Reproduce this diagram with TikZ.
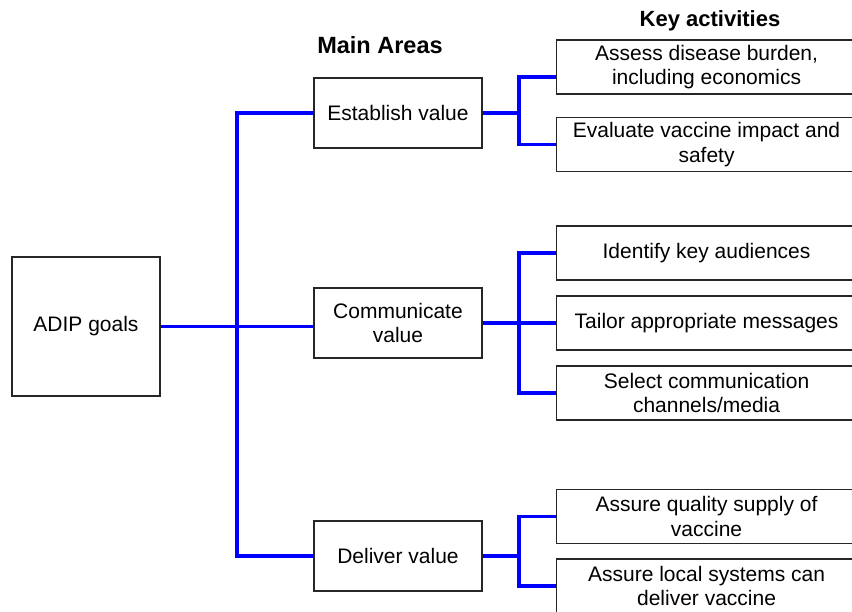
\documentclass[tikz,border=0pt]{standalone}
\usepackage{fontspec}
\setmainfont{Liberation Sans}
\usepackage{tikz}

\begin{document}
\begin{tikzpicture}[x=1pt,y=-1pt,
  box/.style={draw=black!85, line width=1.1pt, fill=white, align=center, inner sep=0pt,
    font=\fontsize{21}{24.5}\selectfont},
  area/.style={box, minimum width=168, minimum height=70},
  activity/.style={box, anchor=west, minimum width=300, minimum height=54},
  head/.style={font=\fontsize{22}{26}\selectfont\bfseries},
  link/.style={draw=blue, line width=3.5pt}]
\useasboundingbox (0,0) rectangle (852,611);
\node[head, font=\fontsize{23.5}{27}\selectfont\bfseries] (areas) at (380,45) {Main Areas};
\node[head] (acts) at (710,21) {Key activities};
\node[box, minimum width=148, minimum height=139] (adip) at (86,326.5) {ADIP goals};
\node[area] (est) at (398,113) {Establish value};
\node[area] (com) at (398,323) {Communicate\\value};
\node[area] (del) at (398,556) {Deliver value};
\node[activity] (k1) at (556,67) {Assess disease burden,\\including economics};
\node[activity] (k2) at (556,144.5) {Evaluate vaccine impact and\\safety};
\node[activity] (k3) at (556,253) {Identify key audiences};
\node[activity] (k4) at (556,323) {Tailor appropriate messages};
\node[activity] (k5) at (556,393) {Select communication\\channels/media};
\node[activity] (k6) at (556,516.5) {Assure quality supply of\\vaccine};
\node[activity] (k7) at (556,586) {Assure local systems can\\deliver vaccine};
\coordinate (trunk) at (237,0);
\coordinate (bx) at (519,0);
\draw[link] (adip.east) -- (adip.east -| com.west);
\draw[link] (est.west) -| (trunk |- del.west) -- (del.west);
\draw[link] (est.east) -- (est.east -| bx);
\draw[link] ([yshift=-10pt]k1.west) -| (bx |- k2.west) -- (k2.west);
\draw[link] (com.east) -- (com.east -| bx);
\draw[link] (k3.west) -| (bx |- k5.west) -- (k5.west);
\draw[link] (k4.west) -- (k4.west -| bx);
\draw[link] (del.east) -- (del.east -| bx);
\draw[link] (k6.west) -| (bx |- k7.west) -- (k7.west);
\end{tikzpicture}
\end{document}
